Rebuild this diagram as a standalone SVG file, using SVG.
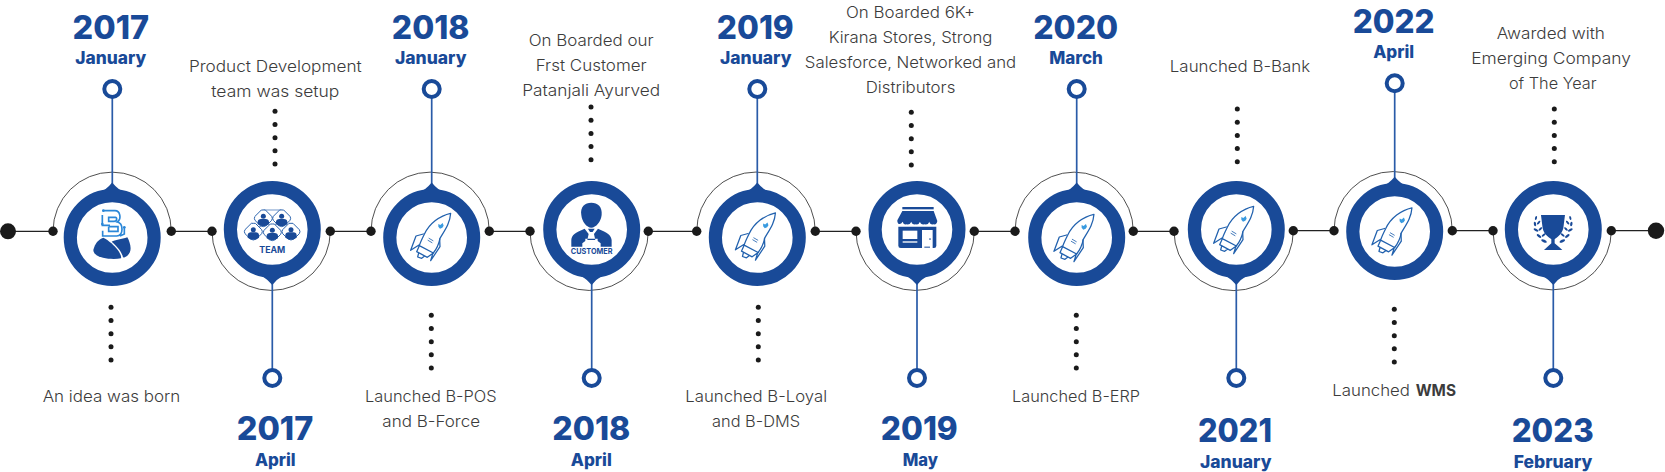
<svg xmlns="http://www.w3.org/2000/svg" xmlns:xlink="http://www.w3.org/1999/xlink" width="1665" height="472" viewBox="0 0 1665 472">
<style>
.bg{fill:#fff}
.ring{fill:none;stroke:#194a98;stroke-width:13.2}
.core{fill:#fff}
.tip{fill:#194a98}
.pin{fill:#fff;stroke:#194a98;stroke-width:4}
.stem{stroke:#2a5ba8;stroke-width:1.7;fill:none}
.seg{stroke:#222;stroke-width:1.3;fill:none}
.arc{stroke:#222;stroke-width:.8;fill:none}
.dot{fill:#1a1a1a}
text{text-anchor:middle;font-family:Inter,"Liberation Sans",sans-serif}
.yr{font-size:32.500px;font-weight:800;fill:#194a98}
.mo{font-size:17px;font-weight:800;fill:#194a98}
.tx{font-size:15.5px;font-weight:300;fill:#3c3c3c}
.b{font-weight:700}
.lbl{font-weight:700;fill:#194a98}
.rk{fill:none;stroke:#2161ae;stroke-width:3.8;stroke-linejoin:round;stroke-linecap:round}
.fill{fill:#194a98}
.w{fill:#fff}
.tb{fill:#fff;stroke:#2a62ad;stroke-width:3}
.lb{fill:none;stroke:#2b87d8;stroke-width:5}
.leaf{fill:#194a98}
</style>
<defs>
<g id="rocket">
<path class="rk" d="M182 55C150 62 118 85 103 118C96 132 91 142 88 152L130 174C138 164 146 150 150 130C165 105 180 85 182 55Z"/>
<path class="rk" d="M100 117L78 123L62 166L87 150M149 132L150 155L122 197L129 174M88 152L80 170L112 187L130 174M86 174L83 186L95 190L104 183"/>
<path class="rk" style="stroke-width:2.5" d="M117 130L129 137M114 136L126 143"/>
<path d="M145 87L151 90L158 84L161 92L157 98L150 101L145 95Z" fill="#3a9be0"/>
</g>
<g id="person">
<path class="tb" d="M0 -25L6 -25L25 -6Q29 0 25 6L9 22Q0 28 -9 22L-25 6Q-29 0 -25 -6L-6 -25Z"/>
<circle class="fill" cx="0" cy="-6" r="7.5"/>
<path class="fill" d="M-17 18V10Q-16 2 -7 2H7Q16 2 17 10V18Q0 30 -17 18Z"/>
</g>
<g id="leaves">
<ellipse class="leaf" cx="408" cy="174" rx="6" ry="3" transform="rotate(-75 408 174)"/>
<ellipse class="leaf" cx="405" cy="192" rx="7" ry="3.5" transform="rotate(-100 405 192)"/>
<ellipse class="leaf" cx="416" cy="188" rx="7" ry="3" transform="rotate(-50 416 188)"/>
<ellipse class="leaf" cx="408" cy="210" rx="8" ry="3.5" transform="rotate(30 408 210)"/>
<ellipse class="leaf" cx="421" cy="207" rx="7" ry="3" transform="rotate(-45 421 207)"/>
<ellipse class="leaf" cx="417" cy="228" rx="8" ry="3.5" transform="rotate(35 417 228)"/>
<ellipse class="leaf" cx="431" cy="225" rx="7" ry="3" transform="rotate(-40 431 225)"/>
<ellipse class="leaf" cx="432" cy="243" rx="9" ry="4" transform="rotate(25 432 243)"/>
</g>
</defs>
<rect class="bg" width="1665" height="472"/>
<g id="connectors">
<path class="seg" d="M8 231.3H53M171.3 231.3H212M330.3 231.3H371M489.3 231.3H530M648.3 231.3H696.7M815.3 231.3H856M974.3 231.3H1015M1133.3 231.3H1174M1293.3 230.7H1334M1452.3 230.7H1493M1611.3 230.7H1656"/>
<path class="arc" d="M53 231.3A59.15 59.15 0 0 1 171.3 231.3M371 231.3A59.15 59.15 0 0 1 489.3 231.3M696.7 231.3A59.3 59.3 0 0 1 815.3 231.3M1015 231.3A59.15 59.15 0 0 1 1133.3 231.3M1334 230.7A59.15 59.15 0 0 1 1452.3 230.7"/>
<path class="arc" d="M212 231.3A59.15 59.15 0 0 0 330.3 231.3M530 231.3A59.15 59.15 0 0 0 648.3 231.3M856 231.3A59.15 59.15 0 0 0 974.3 231.3M1174 231.3A59.65 59.65 0 0 0 1293.3 230.7M1493 230.7A59.15 59.15 0 0 0 1611.3 230.7"/>
<path class="stem" d="M112.3 89V184M272.3 378V283M431.7 89V184M591.7 378V283M757.3 89V184M917 378V283M1076.7 89V184M1236.3 378V283M1394.7 83V178M1553.3 378V283"/>
</g>
<g class="dot">
<circle cx="8" cy="231.3" r="8"/>
<circle cx="1656" cy="230.7" r="8.2"/>
</g>

<g id="node-2017-january">
<circle class="core" cx="112.2" cy="237.5" r="36"/><circle class="ring" cx="112.2" cy="237.5" r="41.9"/>
<path class="tip" d="M100 192Q106 190 112.2 182.5Q118.400 190 124.400 192Z"/>
<circle class="pin" cx="112.3" cy="89" r="8"/>
<g class="dot"><circle cx="53" cy="231.3" r="4.7"/><circle cx="171.300" cy="231.3" r="4.7"/><circle cx="111" cy="307.300" r="2.5"/><circle cx="111" cy="320.500" r="2.5"/><circle cx="111" cy="333.700" r="2.5"/><circle cx="111" cy="346.800" r="2.5"/><circle cx="111" cy="360" r="2.5"/></g>
<g transform="translate(40 160) scale(.3333)">
<path class="lb" d="M190 152H225C240 152 246 176 232 186C250 190 252 226 230 228H188V212M187 165V196H210M206 172H226C232 172 232 184 222 184H206ZM206 200H234V214H206V200M253 202V222L240 228"/>
<circle cx="190" cy="152" r="4" fill="#2b87d8"/><circle cx="187" cy="192" r="4" fill="#2b87d8"/><circle cx="253" cy="202" r="4" fill="#2b87d8"/>
<path class="fill" d="M160 270C165 250 175 238 190 233C205 240 225 258 235 272C240 280 245 290 243 295C215 300 160 295 160 270Z"/>
<path class="fill" d="M215 245C225 240 245 238 262 232C272 250 278 275 262 287C256 292 251 293 249 292C246 275 230 258 215 245Z"/>
</g>
<text class="yr" x="110.800" y="38.5" textLength="76.500" lengthAdjust="spacingAndGlyphs">2017</text>
<text class="mo" x="110.800" y="64.300" textLength="71" lengthAdjust="spacingAndGlyphs">January</text>
<text class="tx" x="111.500" y="402.300" textLength="137.700" lengthAdjust="spacingAndGlyphs">An idea was born</text>
</g>

<g id="node-2017-april">
<circle class="core" cx="272.3" cy="229.5" r="36"/><circle class="ring" cx="272.3" cy="229.5" r="41.9"/>
<path class="tip" d="M262 276L282.600 276Q277 279 272.3 285Q267 279 262 276Z"/>
<circle class="pin" cx="272.3" cy="378" r="8"/>
<g class="dot"><circle cx="212" cy="231.3" r="4.7"/><circle cx="330.300" cy="231.3" r="4.7"/><circle cx="275" cy="111.300" r="2.5"/><circle cx="275" cy="124.500" r="2.5"/><circle cx="275" cy="137.700" r="2.5"/><circle cx="275" cy="150.800" r="2.5"/><circle cx="275" cy="164" r="2.5"/></g>
<g transform="translate(235 195) scale(.3333)">
<path d="M85 45H140M80 95H55M85 45L112 112L140 45" stroke="#2a62ad" stroke-width="2" fill="none"/>
<use href="#person" transform="translate(85 70)"/><use href="#person" transform="translate(140 70)"/><use href="#person" transform="translate(55 110)"/><use href="#person" transform="translate(112 112)"/><use href="#person" transform="translate(168 110)"/>
</g>
<text class="lbl" x="272.300" y="252.500" font-size="8.500" textLength="26" lengthAdjust="spacingAndGlyphs">TEAM</text>
<text class="yr" x="275" y="440" textLength="76.500" lengthAdjust="spacingAndGlyphs">2017</text>
<text class="mo" x="275.300" y="466" textLength="40.700" lengthAdjust="spacingAndGlyphs">April</text>
<text class="tx" x="275.300" y="72.300" textLength="172.700" lengthAdjust="spacingAndGlyphs">Product Development</text>
<text class="tx" x="275.300" y="97.300" textLength="128" lengthAdjust="spacingAndGlyphs">team was setup</text>
</g>

<g id="node-2018-january">
<circle class="core" cx="431.7" cy="237.5" r="36"/><circle class="ring" cx="431.7" cy="237.5" r="41.9"/>
<path class="tip" d="M419.5 192Q425.500 190 431.7 182.5Q437.900 190 443.900 192Z"/>
<circle class="pin" cx="431.7" cy="89" r="8"/>
<g class="dot"><circle cx="371" cy="231.3" r="4.7"/><circle cx="489.300" cy="231.3" r="4.7"/><circle cx="431.300" cy="315.300" r="2.5"/><circle cx="431.300" cy="328.500" r="2.5"/><circle cx="431.300" cy="341.700" r="2.5"/><circle cx="431.300" cy="354.800" r="2.5"/><circle cx="431.300" cy="368" r="2.5"/></g>
<use href="#rocket" transform="translate(390 195) scale(.3333)"/>
<text class="yr" x="430.700" y="38.5" textLength="77.700" lengthAdjust="spacingAndGlyphs">2018</text>
<text class="mo" x="430.700" y="64.300" textLength="71.500" lengthAdjust="spacingAndGlyphs">January</text>
<text class="tx" x="430.800" y="402.300" textLength="131.700" lengthAdjust="spacingAndGlyphs">Launched B-POS</text>
<text class="tx" x="431.200" y="427.300" textLength="97.700" lengthAdjust="spacingAndGlyphs">and B-Force</text>
</g>

<g id="node-2018-april">
<circle class="core" cx="591.7" cy="229.5" r="36"/><circle class="ring" cx="591.7" cy="229.5" r="41.9"/>
<path class="tip" d="M581.4 276L602 276Q596.400 279 591.7 285Q586.400 279 581.4 276Z"/>
<circle class="pin" cx="591.7" cy="378" r="8"/>
<g class="dot"><circle cx="530" cy="231.3" r="4.7"/><circle cx="648.300" cy="231.3" r="4.7"/><circle cx="591" cy="107" r="2.5"/><circle cx="591" cy="120.200" r="2.5"/><circle cx="591" cy="133.400" r="2.5"/><circle cx="591" cy="146.500" r="2.5"/><circle cx="591" cy="159.700" r="2.5"/></g>
<g transform="translate(350 160) scale(.3333)">
<path class="fill" d="M694 165C690 140 705 128 724 128C743 128 758 140 755 165C753 185 738 203 724 203C710 203 696 185 694 165Z"/>
<path class="fill" d="M664 260V240C665 225 675 218 704 206L716 222L712 240H736L732 222L744 206C773 218 783 225 785 240V260H752V250L743 243V236H706V243L697 250V260Z"/>
<path class="fill" d="M714 206H734L728 216H720Z"/>
</g>
<text class="lbl" x="591.700" y="254" font-size="7.500" textLength="41.700" lengthAdjust="spacingAndGlyphs">CUSTOMER</text>
<text class="yr" x="591.300" y="440" textLength="78" lengthAdjust="spacingAndGlyphs">2018</text>
<text class="mo" x="591.300" y="466" textLength="41" lengthAdjust="spacingAndGlyphs">April</text>
<text class="tx" x="591.200" y="46" textLength="125" lengthAdjust="spacingAndGlyphs">On Boarded our</text>
<text class="tx" x="591.200" y="71" textLength="111" lengthAdjust="spacingAndGlyphs">Frst Customer</text>
<text class="tx" x="591.200" y="96" textLength="138" lengthAdjust="spacingAndGlyphs">Patanjali Ayurved</text>
</g>

<g id="node-2019-january">
<circle class="core" cx="757.3" cy="237.5" r="36"/><circle class="ring" cx="757.3" cy="237.5" r="41.9"/>
<path class="tip" d="M745.100 192Q751.100 190 757.3 182.5Q763.500 190 769.500 192Z"/>
<circle class="pin" cx="757.3" cy="89" r="8"/>
<g class="dot"><circle cx="696.700" cy="231.3" r="4.7"/><circle cx="815.300" cy="231.3" r="4.7"/><circle cx="758.300" cy="307.300" r="2.5"/><circle cx="758.300" cy="320.500" r="2.5"/><circle cx="758.300" cy="333.700" r="2.5"/><circle cx="758.300" cy="346.800" r="2.5"/><circle cx="758.300" cy="360" r="2.5"/></g>
<use href="#rocket" transform="translate(714.800 194.500) scale(.3333)"/>
<text class="yr" x="755.300" y="38.5" textLength="77" lengthAdjust="spacingAndGlyphs">2019</text>
<text class="mo" x="755.700" y="64.300" textLength="71.500" lengthAdjust="spacingAndGlyphs">January</text>
<text class="tx" x="756.200" y="402.300" textLength="141.700" lengthAdjust="spacingAndGlyphs">Launched B-Loyal</text>
<text class="tx" x="756" y="427.300" textLength="88" lengthAdjust="spacingAndGlyphs">and B-DMS</text>
</g>

<g id="node-2019-may">
<circle class="core" cx="917" cy="229.5" r="36"/><circle class="ring" cx="917" cy="229.5" r="41.9"/>
<path class="tip" d="M906.700 276L927.300 276Q921.700 279 917 285Q911.700 279 906.700 276Z"/>
<circle class="pin" cx="917" cy="378" r="8"/>
<g class="dot"><circle cx="856" cy="231.3" r="4.7"/><circle cx="974.300" cy="231.3" r="4.7"/><circle cx="911.300" cy="112.300" r="2.5"/><circle cx="911.300" cy="125.500" r="2.5"/><circle cx="911.300" cy="138.700" r="2.5"/><circle cx="911.300" cy="151.800" r="2.5"/><circle cx="911.300" cy="165" r="2.5"/></g>
<g transform="translate(880 195) scale(.3333)">
<rect class="fill" x="67" y="36" width="94" height="7"/>
<path class="fill" d="M67 48H161L172 78Q170 90 161 88Q150 90 148 80Q145 90 134 88Q122 90 120 80Q116 90 108 88Q96 90 94 80Q90 90 80 88Q70 90 68 80Q62 90 55 86Q51 82 52 76Z"/>
<path class="fill" d="M55 95H169V152Q169 159 162 159H62Q55 159 55 152Z"/>
<rect class="w" x="68" y="107" width="44" height="25"/>
<rect class="w" x="68" y="139" width="44" height="4"/>
<path class="w" d="M126 105H158V159H126Z"/>
<circle class="fill" cx="150" cy="132" r="2.500"/>
<rect class="fill" x="133" y="155" width="17" height="3"/>
</g>
<text class="yr" x="919.300" y="440" textLength="77" lengthAdjust="spacingAndGlyphs">2019</text>
<text class="mo" x="920.300" y="466" textLength="35.300" lengthAdjust="spacingAndGlyphs">May</text>
<text class="tx" x="910.500" y="18" textLength="129" lengthAdjust="spacingAndGlyphs">On Boarded 6K+</text>
<text class="tx" x="910.500" y="43" textLength="163.700" lengthAdjust="spacingAndGlyphs">Kirana Stores, Strong</text>
<text class="tx" x="910.500" y="68" textLength="211.300" lengthAdjust="spacingAndGlyphs">Salesforce, Networked and</text>
<text class="tx" x="910.500" y="93" textLength="89.700" lengthAdjust="spacingAndGlyphs">Distributors</text>
</g>

<g id="node-2020-march">
<circle class="core" cx="1076.7" cy="237.5" r="36"/><circle class="ring" cx="1076.7" cy="237.5" r="41.9"/>
<path class="tip" d="M1064.500 192Q1070.500 190 1076.7 182.5Q1082.900 190 1088.900 192Z"/>
<circle class="pin" cx="1076.7" cy="89" r="8"/>
<g class="dot"><circle cx="1015" cy="231.3" r="4.7"/><circle cx="1133.300" cy="231.3" r="4.7"/><circle cx="1076.300" cy="315.300" r="2.5"/><circle cx="1076.300" cy="328.500" r="2.5"/><circle cx="1076.300" cy="341.700" r="2.5"/><circle cx="1076.300" cy="354.800" r="2.5"/><circle cx="1076.300" cy="368" r="2.5"/></g>
<use href="#rocket" transform="translate(1033.300 196) scale(.3333)"/>
<text class="yr" x="1075.700" y="38.5" textLength="85" lengthAdjust="spacingAndGlyphs">2020</text>
<text class="mo" x="1076" y="64.300" textLength="53.700" lengthAdjust="spacingAndGlyphs">March</text>
<text class="tx" x="1076" y="402.300" textLength="128" lengthAdjust="spacingAndGlyphs">Launched B-ERP</text>
</g>

<g id="node-2021-january">
<circle class="core" cx="1236.3" cy="229.5" r="36"/><circle class="ring" cx="1236.3" cy="229.5" r="41.9"/>
<path class="tip" d="M1226 276L1246.600 276Q1241 279 1236.3 285Q1231 279 1226 276Z"/>
<circle class="pin" cx="1236.3" cy="378" r="8"/>
<g class="dot"><circle cx="1174" cy="231.3" r="4.7"/><circle cx="1293.300" cy="230.700" r="4.7"/><circle cx="1237.300" cy="109" r="2.5"/><circle cx="1237.300" cy="122.200" r="2.5"/><circle cx="1237.300" cy="135.400" r="2.5"/><circle cx="1237.300" cy="148.500" r="2.5"/><circle cx="1237.300" cy="161.700" r="2.5"/></g>
<use href="#rocket" transform="translate(1193 188) scale(.3333)"/>
<text class="yr" x="1235" y="442.300" textLength="74" lengthAdjust="spacingAndGlyphs">2021</text>
<text class="mo" x="1235.700" y="468" textLength="71.500" lengthAdjust="spacingAndGlyphs">January</text>
<text class="tx" x="1240" y="72.300" textLength="140.300" lengthAdjust="spacingAndGlyphs">Launched B-Bank</text>
</g>

<g id="node-2022-april">
<circle class="core" cx="1394.7" cy="231.5" r="36"/><circle class="ring" cx="1394.7" cy="231.5" r="41.9"/>
<path class="tip" d="M1382.500 186Q1388.500 184 1394.7 176.7Q1400.900 184 1406.900 186Z"/>
<circle class="pin" cx="1394.7" cy="83.300" r="8"/>
<g class="dot"><circle cx="1334" cy="230.700" r="4.7"/><circle cx="1452.300" cy="230.700" r="4.7"/><circle cx="1394.300" cy="309.300" r="2.5"/><circle cx="1394.300" cy="322.500" r="2.5"/><circle cx="1394.300" cy="335.700" r="2.5"/><circle cx="1394.300" cy="348.800" r="2.5"/><circle cx="1394.300" cy="362" r="2.5"/></g>
<use href="#rocket" transform="translate(1351.300 189.500) scale(.3333)"/>
<text class="yr" x="1393.700" y="32.700" textLength="82" lengthAdjust="spacingAndGlyphs">2022</text>
<text class="mo" x="1393.700" y="58.300" textLength="41" lengthAdjust="spacingAndGlyphs">April</text>
<text class="tx" style="text-anchor:start" y="396.300"><tspan x="1332.300" textLength="77.700" lengthAdjust="spacingAndGlyphs">Launched</tspan><tspan class="b" x="1415.700" textLength="40.300" lengthAdjust="spacingAndGlyphs">WMS</tspan></text>
</g>

<g id="node-2023-february">
<circle class="core" cx="1553.3" cy="229.5" r="36"/><circle class="ring" cx="1553.3" cy="229.5" r="41.9"/>
<path class="tip" d="M1543 276L1563.600 276Q1558 279 1553.3 285Q1548 279 1543 276Z"/>
<circle class="pin" cx="1553.3" cy="378" r="8"/>
<g class="dot"><circle cx="1493" cy="230.700" r="4.7"/><circle cx="1611.300" cy="230.700" r="4.7"/><circle cx="1554.300" cy="109" r="2.5"/><circle cx="1554.300" cy="122.200" r="2.5"/><circle cx="1554.300" cy="135.400" r="2.5"/><circle cx="1554.300" cy="148.500" r="2.5"/><circle cx="1554.300" cy="161.700" r="2.5"/></g>
<g transform="translate(1400 160) scale(.3333)">
<path class="fill" d="M423 165H495L490 205C485 225 470 232 464 238V250L478 262L487 270H432L441 262L454 250V238C448 232 432 225 428 205Z"/>
<use href="#leaves"/>
<use href="#leaves" transform="matrix(-1 0 0 1 919 0)"/>
</g>
<text class="yr" x="1552.700" y="442.300" textLength="82" lengthAdjust="spacingAndGlyphs">2023</text>
<text class="mo" x="1553" y="468" textLength="78.700" lengthAdjust="spacingAndGlyphs">February</text>
<text class="tx" x="1550.800" y="39" textLength="108.300" lengthAdjust="spacingAndGlyphs">Awarded with</text>
<text class="tx" x="1551" y="64" textLength="159.700" lengthAdjust="spacingAndGlyphs">Emerging Company</text>
<text class="tx" x="1552.800" y="89" textLength="87.700" lengthAdjust="spacingAndGlyphs">of The Year</text>
</g>
</svg>
